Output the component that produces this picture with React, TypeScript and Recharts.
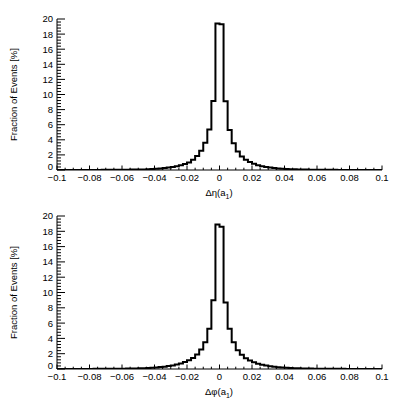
import React from "react";
import { ComposedChart, Line, XAxis, YAxis } from "recharts";

// Histogram binning
const X_MIN = -0.1;
const X_MAX = 0.1;
const BIN_WIDTH = 0.0025;

// Fraction of events [%] per bin, Δη(a1)
const ETA_VALUES = [
  0.005, 0.006, 0.006, 0.007, 0.008, 0.008, 0.01, 0.01, 0.012, 0.013,
  0.015, 0.018, 0.02, 0.022, 0.025, 0.03, 0.035, 0.04, 0.05, 0.06,
  0.07, 0.08, 0.1, 0.13, 0.16, 0.2, 0.26, 0.32, 0.4, 0.5,
  0.62, 0.8, 1.0, 1.35, 1.85, 2.55, 3.6, 5.35, 9.15, 19.4,
  19.3, 9.1, 5.3, 3.55, 2.45, 1.8, 1.35, 1.05, 0.82, 0.64,
  0.5, 0.4, 0.33, 0.26, 0.21, 0.17, 0.13, 0.11, 0.09, 0.07,
  0.06, 0.05, 0.04, 0.035, 0.03, 0.026, 0.022, 0.02, 0.017, 0.015,
  0.013, 0.012, 0.01, 0.009, 0.008, 0.008, 0.007, 0.006, 0.006, 0.005,
];

// Fraction of events [%] per bin, Δφ(a1)
const PHI_VALUES = [
  0.008, 0.008, 0.009, 0.01, 0.011, 0.012, 0.013, 0.014, 0.016, 0.018,
  0.021, 0.024, 0.027, 0.03, 0.036, 0.042, 0.048, 0.055, 0.065, 0.075,
  0.09, 0.11, 0.13, 0.16, 0.2, 0.25, 0.31, 0.38, 0.47, 0.58,
  0.72, 0.9, 1.15, 1.45, 1.9, 2.55, 3.5, 5.25, 9.0, 18.9,
  18.6, 8.7, 5.25, 3.5, 2.45, 1.85, 1.4, 1.1, 0.88, 0.7,
  0.57, 0.46, 0.37, 0.3, 0.24, 0.19, 0.16, 0.13, 0.11, 0.09,
  0.075, 0.065, 0.055, 0.048, 0.042, 0.036, 0.031, 0.027, 0.024, 0.021,
  0.018, 0.016, 0.014, 0.013, 0.012, 0.011, 0.01, 0.009, 0.008, 0.008,
];

// Tick values (major every 0.02 / 2, minor in between)
const X_TICKS = Array.from({ length: 41 }, (_, i) => Math.round(-100 + i * 5) / 1000);
const Y_TICKS = Array.from({ length: 51 }, (_, i) => Math.round(i * 4) / 10);

const FONT = "'Liberation Sans', Arial, Helvetica, sans-serif";
const TICK_FONT = 9.5;

const isMajorX = (v: number) => Math.round(v * 1000) % 20 === 0;
const isMajorY = (v: number) => Math.round(v * 10) % 20 === 0;
const fmtX = (v: number) => {
  const r = Math.round(v * 1000) / 1000;
  if (r === 0) return "0";
  return (r < 0 ? "\u2212" : "") + String(Math.abs(r));
};

const BottomTick = (p: any) => {
  const { x, y, payload } = p;
  const major = isMajorX(payload.value);
  return (
    <g>
      <line x1={x} x2={x} y1={y} y2={y - (major ? 4.5 : 2.3)} stroke="#000" strokeWidth={1} />
      {major && (
        <text x={x} y={y + 10.5} textAnchor="middle" fontSize={TICK_FONT} fontFamily={FONT} fill="#000">
          {fmtX(payload.value)}
        </text>
      )}
    </g>
  );
};

const TopTick = (p: any) => {
  const { x, y, payload } = p;
  const major = isMajorX(payload.value);
  return <line x1={x} x2={x} y1={y} y2={y + (major ? 4.5 : 2.3)} stroke="#000" strokeWidth={1} />;
};

const LeftTick = (p: any) => {
  const { x, y, payload } = p;
  const major = isMajorY(payload.value);
  const isZero = Math.round(payload.value) === 0;
  return (
    <g>
      <line x1={x} x2={x + (major ? 8 : 4)} y1={y} y2={y} stroke="#000" strokeWidth={1} />
      {major && (
        <text
          x={x - 4}
          y={y + (isZero ? -0.5 : 3.4)}
          textAnchor="end"
          fontSize={TICK_FONT}
          fontFamily={FONT}
          fill="#000"
        >
          {String(Math.round(payload.value))}
        </text>
      )}
    </g>
  );
};

const RightTick = (p: any) => {
  const { x, y, payload } = p;
  const major = isMajorY(payload.value);
  return <line x1={x} x2={x - (major ? 8 : 4)} y1={y} y2={y} stroke="#000" strokeWidth={1} />;
};

function buildData(values: number[]) {
  const d = values.map((v, i) => ({ x: Math.round((X_MIN + i * BIN_WIDTH) * 10000) / 10000, v }));
  d.push({ x: X_MAX, v: values[values.length - 1] });
  return d;
}

function Panel({ values, height, marginTop }: { values: number[]; height: number; marginTop: number }) {
  const data = buildData(values);
  return (
    <ComposedChart
      width={415}
      height={height}
      data={data}
      margin={{ top: marginTop, right: 33, bottom: 0, left: 0 }}
    >
      <XAxis
        xAxisId="b"
        type="number"
        dataKey="x"
        domain={[X_MIN, X_MAX]}
        allowDataOverflow
        ticks={X_TICKS}
        interval={0}
        tickSize={0}
        tickMargin={0}
        tickLine={false}
        height={30}
        axisLine={{ stroke: "#000", strokeWidth: 1 }}
        tick={BottomTick}
      />
      <XAxis
        xAxisId="t"
        orientation="top"
        type="number"
        dataKey="x"
        domain={[X_MIN, X_MAX]}
        allowDataOverflow
        ticks={X_TICKS}
        interval={0}
        tickSize={0}
        tickMargin={0}
        tickLine={false}
        height={0}
        axisLine={{ stroke: "#000", strokeWidth: 1 }}
        tick={TopTick}
      />
      <YAxis
        yAxisId="l"
        type="number"
        domain={[0, 20]}
        allowDataOverflow
        ticks={Y_TICKS}
        interval={0}
        tickSize={0}
        tickMargin={0}
        tickLine={false}
        width={57}
        axisLine={{ stroke: "#000", strokeWidth: 1 }}
        tick={LeftTick}
      />
      <YAxis
        yAxisId="r"
        orientation="right"
        type="number"
        domain={[0, 20]}
        allowDataOverflow
        ticks={Y_TICKS}
        interval={0}
        tickSize={0}
        tickMargin={0}
        tickLine={false}
        width={0}
        axisLine={{ stroke: "#000", strokeWidth: 1 }}
        tick={RightTick}
      />
      <Line
        xAxisId="t"
        yAxisId="r"
        dataKey="v"
        type="stepAfter"
        stroke="none"
        dot={false}
        activeDot={false}
        isAnimationActive={false}
      />
      <Line
        xAxisId="b"
        yAxisId="l"
        dataKey="v"
        type="stepAfter"
        stroke="#000"
        strokeWidth={2}
        dot={false}
        activeDot={false}
        isAnimationActive={false}
      />
    </ComposedChart>
  );
}

export default function App() {
  return (
    <div style={{ position: "absolute", left: 0, top: 0, width: 415, height: 399, background: "#fff" }}>
      <div style={{ position: "absolute", left: 0, top: 0 }}>
        <Panel values={ETA_VALUES} height={200} marginTop={19} />
      </div>
      <div style={{ position: "absolute", left: 0, top: 200 }}>
        <Panel values={PHI_VALUES} height={199} marginTop={16} />
      </div>
      <svg
        width={415}
        height={399}
        style={{ position: "absolute", left: 0, top: 0, pointerEvents: "none" }}
      >
        <text
          transform="translate(17,94.5) rotate(-90)"
          textAnchor="middle"
          fontSize={9.5}
          fontFamily={FONT}
          fill="#000"
        >
          Fraction of Events [%]
        </text>
        <text x={219} y={196} textAnchor="middle" fontSize={9.5} fontFamily={FONT} fill="#000">
          Δη(a<tspan dy={3} fontSize={7}>1</tspan><tspan dy={-3}>)</tspan>
        </text>
        <text
          transform="translate(17,292.5) rotate(-90)"
          textAnchor="middle"
          fontSize={9.5}
          fontFamily={FONT}
          fill="#000"
        >
          Fraction of Events [%]
        </text>
        <text x={219} y={395} textAnchor="middle" fontSize={9.5} fontFamily={FONT} fill="#000">
          Δφ(a<tspan dy={3} fontSize={7}>1</tspan><tspan dy={-3}>)</tspan>
        </text>
      </svg>
    </div>
  );
}
